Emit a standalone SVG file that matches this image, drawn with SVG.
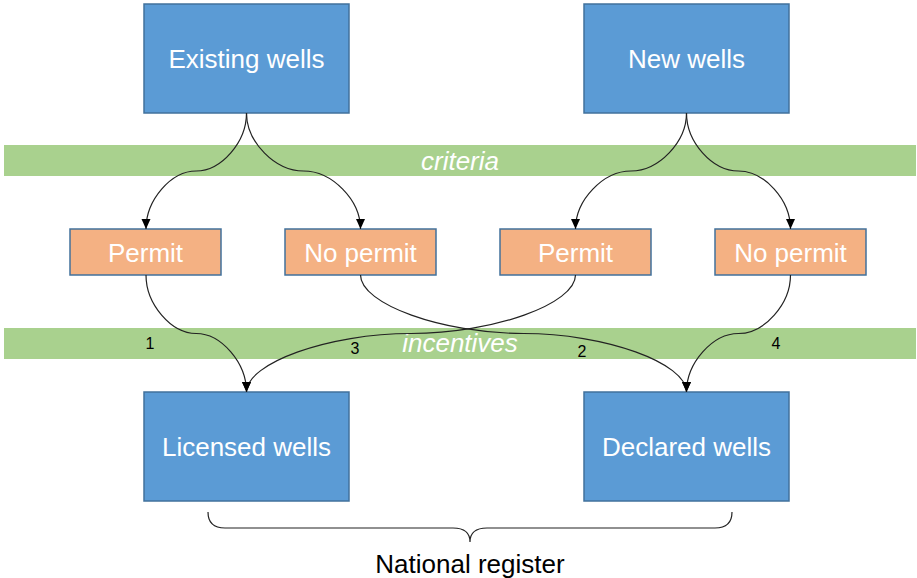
<svg xmlns="http://www.w3.org/2000/svg" width="917" height="578" viewBox="0 0 917 578">
<defs>
<style>
.big{fill:#5B9BD5;stroke:#41719C;stroke-width:1.5}
.small{fill:#F4B183;stroke:#41719C;stroke-width:1.5}
.band{fill:#A9D18E}
.wt{font-family:"Liberation Sans",Arial,sans-serif;font-size:26px;fill:#fff;text-anchor:middle}
.it{font-family:"Liberation Sans",Arial,sans-serif;font-size:26px;font-style:italic;fill:#fff;text-anchor:middle}
.num{font-family:"Liberation Sans",Arial,sans-serif;font-size:16px;fill:#000;text-anchor:middle}
.bt{font-family:"Liberation Sans",Arial,sans-serif;font-size:26px;fill:#000;text-anchor:middle}
.con{fill:none;stroke:#222;stroke-width:1.2;marker-end:url(#arr)}
</style>
<marker id="arr" markerUnits="userSpaceOnUse" markerWidth="10" markerHeight="10" viewBox="0 0 10 10" refX="10" refY="5" orient="auto">
<path d="M0,0.5 L10,5 L0,9.5 Z" fill="#000"/>
</marker>
</defs>
<g id="bands">
<rect class="band" x="4" y="145" width="912" height="31"/>
<text class="it" x="460" y="170">criteria</text>
<rect class="band" x="4" y="328" width="912" height="31"/>
<text class="it" x="460" y="352">incentives</text>
</g>
<g id="existing"><rect class="big" x="144" y="4" width="205" height="109"/><text class="wt" x="246.5" y="68">Existing wells</text></g>
<g id="new"><rect class="big" x="584" y="4" width="205" height="109"/><text class="wt" x="686.5" y="68">New wells</text></g>
<g id="permit1"><rect class="small" x="70" y="229" width="151" height="46"/><text class="wt" x="145.5" y="262">Permit</text></g>
<g id="nopermit1"><rect class="small" x="285" y="229" width="151" height="46"/><text class="wt" x="360.5" y="262">No permit</text></g>
<g id="permit2"><rect class="small" x="500" y="229" width="151" height="46"/><text class="wt" x="575.5" y="262">Permit</text></g>
<g id="nopermit2"><rect class="small" x="715" y="229" width="151" height="46"/><text class="wt" x="790.5" y="262">No permit</text></g>
<g id="licensed"><rect class="big" x="144" y="392" width="205" height="109"/><text class="wt" x="246.5" y="456">Licensed wells</text></g>
<g id="declared"><rect class="big" x="584" y="392" width="205" height="109"/><text class="wt" x="686.5" y="456">Declared wells</text></g>
<g id="connectors">
<path class="con" d="M246.5,113 C246.5,142 221.4,171 196.2,171 C171,171 146,200 146,229"/>
<path class="con" d="M246.5,113 C246.5,142 275,171 303.5,171 C332,171 360.5,200 360.5,229"/>
<path class="con" d="M686.5,113 C686.5,142 658.8,171 631,171 C603.3,171 575.5,200 575.5,229"/>
<path class="con" d="M686.5,113 C686.5,142 712,171 738.5,171 C764.5,171 790.5,200 790.5,229"/>
<path class="con" d="M146,275 C146,304 171,333.5 196.2,333.5 C221.4,333.5 246.5,363 246.5,392"/>
<path class="con" d="M360.5,275 C360.5,304 442,333.5 523.5,333.5 C605,333.5 686.5,363 686.5,392"/>
<path class="con" d="M575.5,275 C575.5,304 493.3,333.5 411,333.5 C328.8,333.5 246.5,363 246.5,392"/>
<path class="con" d="M790.5,275 C790.5,304 764.5,333.5 738.5,333.5 C712.5,333.5 686.5,363 686.5,392"/>
</g>
<g id="labels">
<text class="num" x="150" y="349">1</text>
<text class="num" x="582" y="357">2</text>
<text class="num" x="355" y="354">3</text>
<text class="num" x="776" y="349">4</text>
</g>
<g id="brace">
<path d="M208,512 Q208,528 225,528 L453,528 Q470,528 470,542 Q470,528 487,528 L715,528 Q732,528 732,512" fill="none" stroke="#222" stroke-width="1.2"/>
<text class="bt" x="470" y="573">National register</text>
</g>
</svg>
